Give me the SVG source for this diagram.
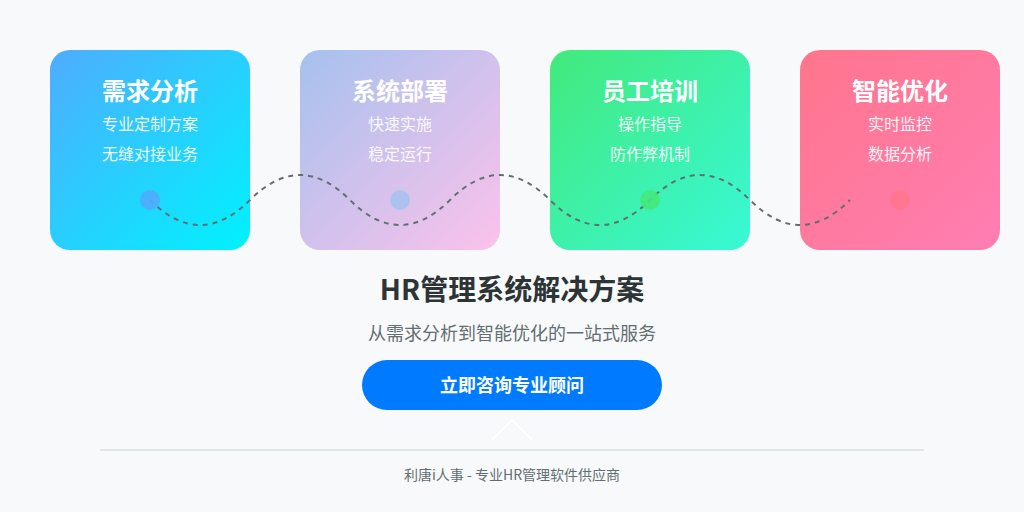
<svg xmlns="http://www.w3.org/2000/svg" width="1024" height="512" viewBox="0 0 1024 512">
<defs>
<linearGradient id="g1" x1="0" y1="0" x2="1" y2="1"><stop offset="0" stop-color="#4facfe"/><stop offset="1" stop-color="#00f2fe"/></linearGradient>
<linearGradient id="g2" x1="0" y1="0" x2="1" y2="1"><stop offset="0" stop-color="#a6c1ee"/><stop offset="1" stop-color="#fbc2eb"/></linearGradient>
<linearGradient id="g3" x1="0" y1="0" x2="1" y2="1"><stop offset="0" stop-color="#43e97b"/><stop offset="1" stop-color="#38f9d7"/></linearGradient>
<linearGradient id="g4" x1="0" y1="0" x2="1" y2="1"><stop offset="0" stop-color="#ff758c"/><stop offset="1" stop-color="#ff7eb3"/></linearGradient>
<style>
.card{rx:20px;ry:20px}
.t{font-family:"Noto Sans CJK SC","Noto Sans",sans-serif;fill:#fff;text-anchor:middle}
.h{font-size:24px;font-weight:bold}
.s{font-size:16px;opacity:0.9}
.dot{opacity:0.9}
.c{font-family:"Noto Sans CJK SC","Noto Sans",sans-serif;text-anchor:middle}
</style>
</defs>
<rect width="1024" height="512" fill="#f8f9fa"/>
<g id="card1">
<rect class="card" x="50" y="50" width="200" height="200" fill="url(#g1)"/>
<text class="t h" x="150" y="100">需求分析</text>
<text class="t s" x="150" y="130">专业定制方案</text>
<text class="t s" x="150" y="160">无缝对接业务</text>
</g>
<g id="card2">
<rect class="card" x="300" y="50" width="200" height="200" fill="url(#g2)"/>
<text class="t h" x="400" y="100">系统部署</text>
<text class="t s" x="400" y="130">快速实施</text>
<text class="t s" x="400" y="160">稳定运行</text>
</g>
<g id="card3">
<rect class="card" x="550" y="50" width="200" height="200" fill="url(#g3)"/>
<text class="t h" x="650" y="100">员工培训</text>
<text class="t s" x="650" y="130">操作指导</text>
<text class="t s" x="650" y="160">防作弊机制</text>
</g>
<g id="card4">
<rect class="card" x="800" y="50" width="200" height="200" fill="url(#g4)"/>
<text class="t h" x="900" y="100">智能优化</text>
<text class="t s" x="900" y="130">实时监控</text>
<text class="t s" x="900" y="160">数据分析</text>
</g>
<g id="connectors">
<path d="M150,200 Q200,250 250,200 T350,200 T450,200 T550,200 T650,200 T750,200 T850,200" fill="none" stroke="#636e72" stroke-width="2" stroke-dasharray="5,5"/>
</g>
<g id="dots">
<circle class="dot" cx="150" cy="200" r="10" fill="#4facfe"/>
<circle class="dot" cx="400" cy="200" r="10" fill="#a6c1ee"/>
<circle class="dot" cx="650" cy="200" r="10" fill="#43e97b"/>
<circle class="dot" cx="900" cy="200" r="10" fill="#ff758c"/>
</g>
<g id="title">
<text class="c" x="512" y="300" font-size="28" font-weight="bold" fill="#2d3436">HR管理系统解决方案</text>
<text class="c" x="512" y="340" font-size="18" fill="#636e72">从需求分析到智能优化的一站式服务</text>
</g>
<g id="button">
<rect x="362" y="360" width="300" height="50" rx="25" fill="#007bff"/>
<text class="c" x="512" y="392" font-size="18" font-weight="bold" fill="#fff">立即咨询专业顾问</text>
</g>
<polyline points="492,440 512,420 532,440" fill="none" stroke="#fff" stroke-width="2"/>
<line x1="100" y1="450" x2="924" y2="450" stroke="#dfe6e9" stroke-width="2"/>
<text class="c" x="512" y="480" font-size="14" fill="#636e72">利唐i人事 - 专业HR管理软件供应商</text>
</svg>
